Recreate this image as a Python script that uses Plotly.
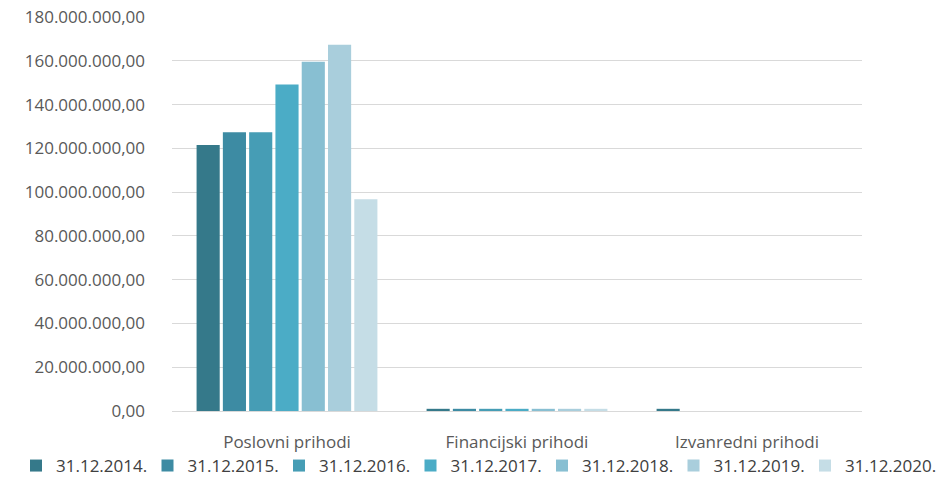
import plotly.graph_objects as go

categories = ["Poslovni prihodi", "Financijski prihodi", "Izvanredni prihodi"]
series_names = ["31.12.2014.", "31.12.2015.", "31.12.2016.", "31.12.2017.",
                "31.12.2018.", "31.12.2019.", "31.12.2020."]
values_2014 = [121500000, 1000000, 1000000]
values_2015 = [127300000, 1000000, 0]
values_2016 = [127300000, 1000000, 0]
values_2017 = [149200000, 1000000, 0]
values_2018 = [159600000, 1000000, 0]
values_2019 = [167300000, 1000000, 0]
values_2020 = [96700000, 1000000, 0]
series_values = [values_2014, values_2015, values_2016, values_2017,
                 values_2018, values_2019, values_2020]
colors = ["#35798a", "#3d8ba3", "#469db5", "#4bacc6", "#88bfd2", "#a9cedc", "#c5dde6"]

tick_vals = [0, 20e6, 40e6, 60e6, 80e6, 100e6, 120e6, 140e6, 160e6, 180e6]
tick_text = ["0,00", "20.000.000,00", "40.000.000,00", "60.000.000,00", "80.000.000,00",
             "100.000.000,00", "120.000.000,00", "140.000.000,00", "160.000.000,00",
             "180.000.000,00"]

font_family = "Open Sans, sans-serif"

fig = go.Figure()
legend_layouts = {}
for i, (name, vals, col) in enumerate(zip(series_names, series_values, colors)):
    key = "legend" if i == 0 else f"legend{i + 1}"
    fig.add_trace(go.Bar(x=categories, y=vals, name=name, legend=key,
                         marker=dict(color=col, line=dict(width=0))))
    # one single-entry legend per series, laid out in a row under the axis
    legend_layouts[key] = dict(
        orientation="h", xref="container", yref="container",
        x=(16 + i * 131.5) / 946, xanchor="left",
        y=-0.022, yanchor="bottom",
        bgcolor="rgba(0,0,0,0)", itemwidth=30,
        font=dict(size=17, color="#404040"),
    )

fig.update_layout(
    width=946, height=484,
    barmode="group", bargap=0.2, bargroupgap=0.12,
    paper_bgcolor="white", plot_bgcolor="white",
    margin=dict(l=172, r=84, t=17, b=73, autoexpand=False),
    font=dict(family=font_family, size=17, color="#595959"),
    showlegend=True,
    xaxis=dict(showline=True, linecolor="#d9d9d9", linewidth=1, ticks="",
               showgrid=False, ticklabelstandoff=16,
               tickfont=dict(size=17, color="#595959")),
    yaxis=dict(range=[0, 180e6], tickvals=tick_vals, ticktext=tick_text,
               showgrid=True, gridcolor="#d9d9d9", gridwidth=1,
               zeroline=False, showline=False, ticks="",
               ticklabelstandoff=26,
               tickfont=dict(size=17, color="#595959")),
    **legend_layouts,
)

fig.write_html("out.html")
